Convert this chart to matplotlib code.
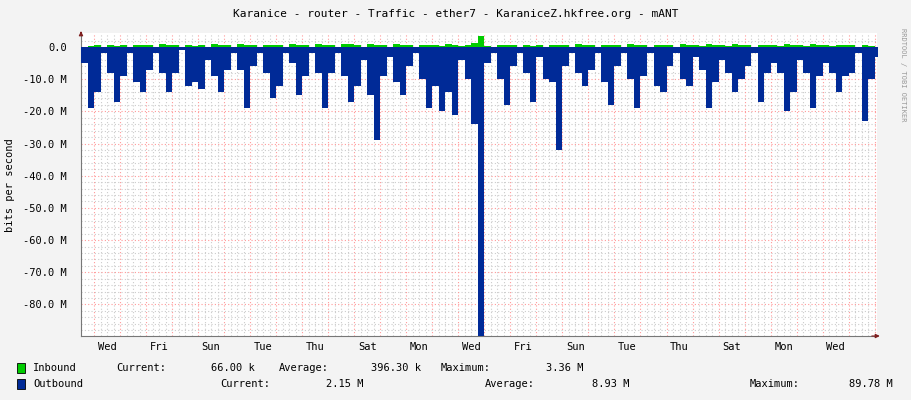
import matplotlib
matplotlib.use("Agg")
import matplotlib.pyplot as plt
import numpy as np

# 6-hour buckets, first bucket starts half a day before the first Wednesday midnight
start_day = -0.5
step = 0.25
outbound = [-5, -19,
            -14, -2, -8, -17,   -9, -2, -11, -14,   -7, -2, -8, -14,   -8, -1, -12, -11,
            -13, -4, -9, -14,   -7, -2, -7, -19,    -6, -2, -8, -16,   -12, -2, -5, -15,
            -9, -2, -8, -19,    -8, -2, -9, -17,    -12, -4, -15, -29, -9, -3, -11, -15,
            -6, -2, -10, -19,   -12, -20, -14, -21, -4, -10, -24, -89.78, -5, -2, -10, -18,
            -6, -2, -8, -17,    -3, -10, -11, -32,  -6, -2, -8, -12,   -7, -2, -11, -18,
            -6, -2, -10, -19,   -9, -2, -12, -14,   -6, -2, -10, -12,  -3, -7, -19, -11,
            -4, -8, -14, -10,   -6, -2, -17, -8,    -5, -8, -20, -14,  -4, -8, -19, -9,
            -5, -8, -14, -9,    -8, -2, -23, -10,
            -3]
inbound = [0.1, 0.2,
           0.5, 0.1, 0.6, 0.4,  0.5, 0.1, 0.7, 0.5,  0.6, 0.1, 0.8, 0.6,  0.5, 0.1, 0.7, 0.4,
           0.6, 0.1, 0.8, 0.5,  0.6, 0.1, 0.9, 0.7,  0.5, 0.1, 0.7, 0.5,  0.6, 0.1, 0.9, 0.6,
           0.5, 0.1, 0.8, 0.5,  0.6, 0.1, 0.9, 0.8,  0.7, 0.1, 0.9, 0.5,  0.6, 0.1, 0.8, 0.7,
           0.5, 0.1, 0.7, 0.5,  0.6, 0.3, 0.9, 0.6,  0.4, 0.5, 1.2, 3.36, 0.3, 0.1, 0.6, 0.5,
           0.6, 0.1, 0.7, 0.4,  0.5, 0.1, 0.6, 0.7,  0.5, 0.1, 0.8, 0.6,  0.6, 0.1, 0.7, 0.5,
           0.7, 0.1, 0.8, 0.5,  0.5, 0.1, 0.7, 0.6,  0.6, 0.1, 0.8, 0.7,  0.6, 0.3, 0.9, 0.6,
           0.7, 0.4, 1.0, 0.6,  0.6, 0.1, 0.7, 0.5,  0.6, 0.3, 0.9, 0.6,  0.6, 0.3, 0.8, 0.5,
           0.5, 0.3, 0.7, 0.5,  0.5, 0.1, 0.7, 0.4,
           0.1]
day_names = ["Wed", "Fri", "Sun", "Tue", "Thu", "Sat", "Mon",
             "Wed", "Fri", "Sun", "Tue", "Thu", "Sat", "Mon", "Wed"]
y_ticks = [0, -10, -20, -30, -40, -50, -60, -70, -80]
y_labels = ["0.0"] + ["%.1f M" % v for v in y_ticks[1:]]

W, H = 911, 400
font = "DejaVu Sans Mono"
fig = plt.figure(figsize=(W / 100, H / 100), dpi=100, facecolor="#f3f3f3")
ax = fig.add_axes([81 / W, 1 - 336 / H, (877 - 81) / W, (336 - 33) / H], facecolor="white")

x = start_day + step * np.arange(len(outbound) + 1)
out_v = np.array(outbound + [outbound[-1]])
in_v = np.array(inbound + [inbound[-1]])
ax.fill_between(x, out_v, 0, step="post", color="#002a97", lw=0, zorder=3)
ax.fill_between(x, in_v, 0, step="post", color="#00cc00", lw=0, zorder=3)

x_end = (877 - 94.7) / 26
ax.set_xlim(start_day, x_end)
ax.set_ylim(-89.8, 4.35)

# grids
for d in np.arange(0, x_end, 0.25):
    major = abs(d - round(d)) < 1e-6
    ax.axvline(d, color="#ff9999" if major else "#cccccc", lw=0.8,
               ls=(0, (1, 2)), zorder=1 if major else 0)
for v in np.arange(-88, 4, 2):
    major = v % 10 == 0
    ax.axhline(v, color="#ff9999" if major else "#cccccc", lw=0.8,
               ls=(0, (1, 2)), zorder=1 if major else 0)

ax.set_yticks(y_ticks)
ax.set_yticklabels(y_labels, fontfamily=font, fontsize=7.5)
ax.set_xticks([0.5 + 2 * i for i in range(len(day_names))])
ax.set_xticklabels(day_names, fontfamily=font, fontsize=7.5)
ax.tick_params(axis="y", length=0, pad=10)
ax.tick_params(axis="x", length=0, pad=4)
for s in ["top", "right"]:
    ax.spines[s].set_visible(False)
for s in ["left", "bottom"]:
    ax.spines[s].set_color("#777777")
    ax.spines[s].set_linewidth(0.8)
ax.annotate("", xy=(1.007, 0), xycoords="axes fraction", xytext=(0.99, 0),
            arrowprops=dict(arrowstyle="-|>", color="#7f1f1f", lw=0.8, mutation_scale=6))
ax.annotate("", xy=(0, 1.015), xycoords="axes fraction", xytext=(0, 0.99),
            arrowprops=dict(arrowstyle="-|>", color="#7f1f1f", lw=0.8, mutation_scale=6))

fig.text(0.5, 1 - 14 / H, "Karanice - router - Traffic - ether7 - KaraniceZ.hkfree.org - mANT",
         ha="center", va="center", fontfamily=font, fontsize=8)
fig.text(10 / W, 1 - 185 / H, "bits per second", rotation=90, ha="center", va="center",
         fontfamily=font, fontsize=7.5)
fig.text(903 / W, 1 - 75 / H, "RRDTOOL / TOBI OETIKER", rotation=270, ha="center", va="center",
         fontfamily=font, fontsize=5, color="#999999")

def t(px, py, s, ha="left"):
    fig.text(px / W, 1 - py / H, s, ha=ha, va="center", fontfamily=font, fontsize=7.5)

for py, col in [(368, "#00cc00"), (384, "#002a97")]:
    fig.patches.append(plt.Rectangle((17 / W, 1 - (py + 5) / H), 8 / W, 10 / H,
                                     transform=fig.transFigure, facecolor=col,
                                     edgecolor="black", lw=0.6))
t(33, 368, "Inbound")
t(116, 368, "Current:")
t(255, 368, "66.00 k", ha="right")
t(279, 368, "Average:")
t(421, 368, "396.30 k", ha="right")
t(441, 368, "Maximum:")
t(584, 368, "3.36 M", ha="right")
t(33, 384, "Outbound")
t(220, 384, "Current:")
t(364, 384, "2.15 M", ha="right")
t(485, 384, "Average:")
t(629, 384, "8.93 M", ha="right")
t(750, 384, "Maximum:")
t(893, 384, "89.78 M", ha="right")

fig.savefig("out.png", dpi=100, facecolor=fig.get_facecolor())
